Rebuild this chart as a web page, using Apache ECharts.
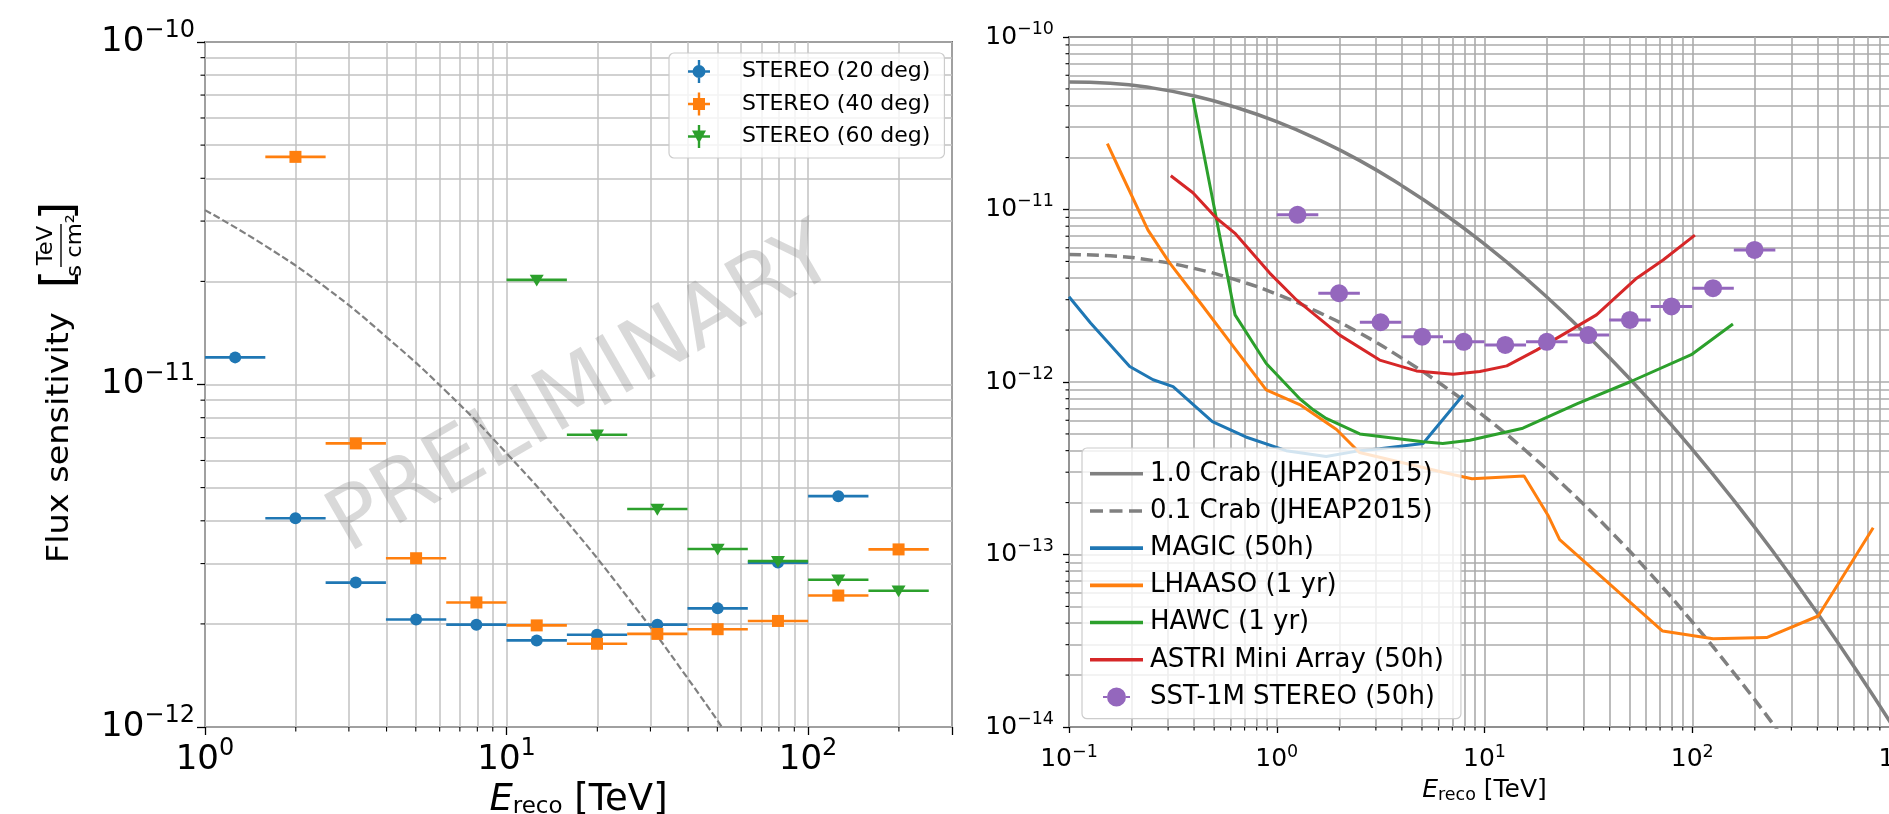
<!DOCTYPE html>
<html>
<head>
<meta charset="utf-8">
<title>Flux sensitivity</title>
<script src="https://cdn.jsdelivr.net/npm/echarts@6/dist/echarts.min.js"></script>
<style>
  html, body { margin: 0; padding: 0; background: #fff; }
  #chart { width: 1889px; height: 814px; }
</style>
</head>
<body>
<div id="chart"></div>
<script>
// energy bins of the STEREO points (0.2 decade wide), TeV
const binCenter = [1.259, 1.995, 3.162, 5.012, 7.943, 12.59, 19.95, 31.62, 50.12, 79.43, 125.9, 199.5];
const binLow = [1.0, 1.585, 2.512, 3.981, 6.310, 10.0, 15.85, 25.12, 39.81, 63.10, 100.0, 158.5];
const binHigh = [1.585, 2.512, 3.981, 6.310, 10.0, 15.85, 25.12, 39.81, 63.10, 100.0, 158.5, 251.2];

// left panel: SST-1M stereo sensitivity per zenith angle
const fluxStereo20 = [1.20e-11, 4.07e-12, 2.64e-12, 2.06e-12, 1.99e-12, 1.79e-12, 1.86e-12, 1.99e-12, 2.22e-12, 3.02e-12, 4.72e-12, null];
const fluxStereo40 = [null, 4.62e-11, 6.73e-12, 3.11e-12, 2.31e-12, 1.98e-12, 1.75e-12, 1.87e-12, 1.93e-12, 2.04e-12, 2.42e-12, 3.30e-12];
const fluxStereo60 = [null, null, null, null, null, 2.02e-11, 7.13e-12, 4.33e-12, 3.31e-12, 3.05e-12, 2.69e-12, 2.50e-12];

// right panel: SST-1M stereo 50h, same bins
const fluxSst1m = [9.31e-12, 3.27e-12, 2.22e-12, 1.83e-12, 1.71e-12, 1.64e-12, 1.71e-12, 1.87e-12, 2.29e-12, 2.74e-12, 3.50e-12, 5.83e-12];

// Crab reference curves
const crabEnergy = [0.1, 0.158, 0.251, 0.398, 0.631, 1, 1.585, 2.512, 3.981, 6.31, 10, 15.85, 25.12, 39.81, 63.1, 100, 158.5, 251.2, 398.1, 631, 1000];
const crabFlux = [5.48e-11, 5.39e-11, 5.07e-11, 4.56e-11, 3.92e-11, 3.23e-11, 2.54e-11, 1.92e-11, 1.38e-11, 9.54e-12, 6.30e-12, 3.98e-12, 2.40e-12, 1.39e-12, 7.69e-13, 4.07e-13, 2.06e-13, 9.97e-14, 4.62e-14, 2.05e-14, 8.69e-15];
const crabFluxTenth = [5.48e-12, 5.39e-12, 5.07e-12, 4.56e-12, 3.92e-12, 3.23e-12, 2.54e-12, 1.92e-12, 1.38e-12, 9.54e-13, 6.30e-13, 3.98e-13, 2.40e-13, 1.39e-13, 7.69e-14, 4.07e-14, 2.06e-14, 9.97e-15, 4.62e-15, 2.05e-15, 8.69e-16];

// other instruments
const magicEnergy = [0.1, 0.127, 0.196, 0.254, 0.317, 0.49, 0.71, 1.11, 1.73, 2.51, 3.13, 5.06, 7.89];
const magicFlux = [3.12e-12, 2.2e-12, 1.23e-12, 1.03e-12, 9.4e-13, 5.9e-13, 4.8e-13, 4.0e-13, 3.7e-13, 4.0e-13, 4.1e-13, 4.4e-13, 8.4e-13];
const lhaasoEnergy = [0.153, 0.175, 0.24, 0.305, 0.43, 0.62, 0.89, 1.29, 1.94, 2.5, 7.1, 8.7, 15.5, 20.2, 23, 72, 126, 228, 404, 743];
const lhaasoFlux = [2.41e-11, 1.70e-11, 7.6e-12, 4.9e-12, 2.86e-12, 1.6e-12, 9.0e-13, 7.4e-13, 5.3e-13, 3.9e-13, 2.9e-13, 2.75e-13, 2.85e-13, 1.69e-13, 1.22e-13, 3.6e-14, 3.25e-14, 3.3e-14, 4.4e-14, 1.43e-13];
const hawcEnergy = [0.395, 0.63, 0.89, 1.29, 1.5, 1.73, 2.51, 5.06, 6.3, 8.5, 15.3, 28, 50, 99, 157];
const hawcFlux = [4.43e-11, 2.45e-12, 1.28e-12, 8.0e-13, 6.9e-13, 6.15e-13, 5.0e-13, 4.5e-13, 4.4e-13, 4.6e-13, 5.4e-13, 7.5e-13, 1.0e-12, 1.44e-12, 2.17e-12];
const astriEnergy = [0.309, 0.395, 0.513, 0.628, 0.925, 1.245, 2.01, 3.13, 4.7, 7.06, 9.5, 12.8, 17.8, 34.6, 54, 72.4, 103];
const astriFlux = [1.57e-11, 1.25e-11, 8.9e-12, 7.3e-12, 4.28e-12, 2.99e-12, 1.87e-12, 1.34e-12, 1.16e-12, 1.11e-12, 1.15e-12, 1.24e-12, 1.53e-12, 2.45e-12, 4.0e-12, 5.1e-12, 7.1e-12];

const FONT = "DejaVu Sans";
const pairs = (xs, ys) => xs.map((x, i) => [x, ys[i]]);
const binned = (vals) => binCenter.map((e, i) => vals[i] == null ? null : [e, vals[i], binLow[i], binHigh[i]]).filter(Boolean);

// 10^n tick labels, other values (axis ends) left blank
const powerLabel = (v) => {
  const p = Math.log10(v);
  const r = Math.round(p);
  if (Math.abs(p - r) > 1e-6) return "";
  return "{b|10}{s|" + String(r).replace("-", "\u2212") + "}";
};

// 2..9 x 10^n positions for the minor grid / minor ticks
const minorValues = (lo, hi) => {
  const out = [];
  for (let d = Math.floor(Math.log10(lo) + 1e-9); d < Math.ceil(Math.log10(hi) - 1e-9); d++) {
    for (let m = 2; m <= 9; m++) {
      const v = m * Math.pow(10, d);
      if (v > lo * 1.0001 && v < hi * 0.9999) out.push(v);
    }
  }
  return out;
};

const minorGrid = (name, idx, xr, yr, color, width) => ({
  name, type: "line", xAxisIndex: idx, yAxisIndex: idx, data: [], silent: true,
  markLine: {
    z: 1, silent: true, symbol: ["none", "none"], label: { show: false },
    emphasis: { disabled: true }, animation: false,
    lineStyle: { color, width, type: "solid" },
    data: [
      ...minorValues(xr[0], xr[1]).map(v => [{ coord: [v, yr[0]] }, { coord: [v, yr[1]] }]),
      ...minorValues(yr[0], yr[1]).map(v => [{ coord: [xr[0], v] }, { coord: [xr[1], v] }])
    ]
  }
});

// short outward minor ticks on the bottom and left axes
const minorTicks = (name, idx, xr, yr, len) => ({
  name, type: "custom", xAxisIndex: idx, yAxisIndex: idx, z: 2, clip: false, silent: true,
  data: [
    ...minorValues(xr[0], xr[1]).map(v => [v, yr[0], 0]),
    ...minorValues(yr[0], yr[1]).map(v => [xr[0], v, 1])
  ],
  renderItem: (params, api) => {
    const p = api.coord([api.value(0), api.value(1)]);
    const vertical = api.value(2) === 0;
    return {
      type: "line",
      shape: vertical ? { x1: p[0], y1: p[1], x2: p[0], y2: p[1] + len } : { x1: p[0] - len, y1: p[1], x2: p[0], y2: p[1] },
      style: { stroke: "#000", lineWidth: 1.1 }
    };
  }
});

// horizontal error bar + marker, positioned through the axis scales
const errorbarItem = (shape, color, size, lw) => (params, api) => {
  const f = api.value(1);
  const c = api.coord([api.value(0), f]);
  const a = api.coord([api.value(2), f]);
  const b = api.coord([api.value(3), f]);
  const h = size / 2;
  let marker;
  if (shape === "circle") {
    marker = { type: "circle", shape: { cx: c[0], cy: c[1], r: h }, style: { fill: color } };
  } else if (shape === "square") {
    marker = { type: "rect", shape: { x: c[0] - h, y: c[1] - h, width: size, height: size }, style: { fill: color } };
  } else {
    marker = { type: "polygon", shape: { points: [[c[0] - h, c[1] - h * 0.75], [c[0] + h, c[1] - h * 0.75], [c[0], c[1] + h * 0.95]] }, style: { fill: color } };
  }
  return {
    type: "group",
    children: [
      { type: "line", shape: { x1: a[0], y1: a[1], x2: b[0], y2: b[1] }, style: { stroke: color, lineWidth: lw } },
      marker
    ]
  };
};

const errSeries = (name, shape, color, data, idx, size, lw) => ({
  name, type: "custom", xAxisIndex: idx, yAxisIndex: idx, z: 4, clip: true,
  itemStyle: { color }, renderItem: errorbarItem(shape, color, size, lw), data
});

const lineSeries = (name, color, data, width, dash, smooth) => ({
  name, type: "line", xAxisIndex: 1, yAxisIndex: 1, z: 3, data, smooth: !!smooth,
  symbol: "none", showSymbol: false, color,
  lineStyle: { color, width, type: dash || "solid" }
});

// legend icons (path bbox == item box so nothing gets distorted)
const plusBars = "M18.8,1 h2.4 v23 h-2.4 Z M9,11.3 h22 v2.4 h-22 Z";
const iconCircle = "path://M0,0 M40,25 " + plusBars + " M13.5,12.5 A6.5,6.5 0 1,1 26.5,12.5 A6.5,6.5 0 1,1 13.5,12.5 Z";
const iconSquare = "path://M0,0 M40,25 " + plusBars + " M14,6.5 h12 v12 h-12 Z";
const iconTriangle = "path://M0,0 M40,25 " + plusBars + " M13,6.5 L27,6.5 L20,19.5 Z";
const iconSolid = "path://M0,0 M53,20 M0,8.2 h53 v3.6 h-53 Z";
const iconDashed = "path://M0,0 M53,20 M0,8.2 h13 v3.6 h-13 Z M19.5,8.2 h13 v3.6 h-13 Z M39,8.2 h13 v3.6 h-13 Z";
const iconDot = "path://M0,0 M53,20 M17,10 A9.5,9.5 0 1,1 36,10 A9.5,9.5 0 1,1 17,10 Z M13,9 h4 v2 h-4 Z M36,9 h4 v2 h-4 Z";

const C = {
  blue: "#1f77b4", orange: "#ff7f0e", green: "#2ca02c", red: "#d62728", purple: "#9467bd", grey: "#808080"
};

const axisCommon = (size, sub, margin, tickLen, gridColor, gridWidth) => ({
  type: "log", logBase: 10,
  axisLine: { show: false },
  axisTick: { show: true, inside: false, length: tickLen, lineStyle: { color: "#000", width: 1.3 } },
  splitLine: { show: true, lineStyle: { color: gridColor, width: gridWidth } },
  axisLabel: {
    formatter: powerLabel, margin, color: "#000", fontFamily: FONT,
    rich: {
      b: { fontSize: size, lineHeight: size * 1.35, verticalAlign: "middle", fontFamily: FONT, color: "#000" },
      s: { fontSize: sub, lineHeight: sub, verticalAlign: "top", fontFamily: FONT, color: "#000" }
    }
  }
});

// E_reco [TeV]; the subscript box is sized so it sits `drop` px below the main text
const axisName = (size, sub, drop) => {
  const lh = size * 1.35;
  return {
    rich: {
      i: { fontSize: size, fontStyle: "italic", lineHeight: lh, verticalAlign: "middle", fontFamily: FONT, color: "#000" },
      sub: { fontSize: sub, height: 2 * (lh / 2 - drop), lineHeight: 2 * (lh / 2 - drop), verticalAlign: "bottom", fontFamily: FONT, color: "#000" },
      n: { fontSize: size, lineHeight: lh, verticalAlign: "middle", fontFamily: FONT, color: "#000" }
    }
  };
};

const LEFT_GRID = "#c2c2c2";
const RIGHT_GRID = "#ababab";

const chart = echarts.init(document.getElementById("chart"));

chart.setOption({
  animation: false,
  backgroundColor: "#fff",
  textStyle: { fontFamily: FONT },
  grid: [
    { left: 205, top: 42, width: 747, height: 685, show: true, backgroundColor: "#fff", borderColor: "#000", borderWidth: 1.5, containLabel: false, outerBoundsMode: "none" },
    { left: 1069, top: 37, width: 831, height: 690, show: true, backgroundColor: "#fff", borderColor: "#000", borderWidth: 1.5, containLabel: false, outerBoundsMode: "none" }
  ],
  xAxis: [
    Object.assign(axisCommon(34, 24, 10, 8, LEFT_GRID, 1.5), {
      gridIndex: 0, min: 1, max: 300,
      name: "{i|E}{sub|reco}{n| [TeV]}", nameLocation: "middle", nameGap: 41, nameTextStyle: axisName(37, 23, 7)
    }),
    Object.assign(axisCommon(25, 17.5, 16, 6, RIGHT_GRID, 1.6), {
      gridIndex: 1, min: 0.1, max: 1000,
      name: "{i|E}{sub|reco}{n| [TeV]}", nameLocation: "middle", nameGap: 47, nameTextStyle: axisName(25, 17.5, 5)
    })
  ],
  yAxis: [
    Object.assign(axisCommon(34, 24, 10, 8, LEFT_GRID, 1.5), { gridIndex: 0, min: 1e-12, max: 1e-10 }),
    Object.assign(axisCommon(25, 17.5, 15, 6, RIGHT_GRID, 1.6), { gridIndex: 1, min: 1e-14, max: 1e-10 })
  ],
  legend: [
    {
      orient: "vertical", left: 669, top: 53, padding: [6, 14, 9, 10], itemGap: 7.5,
      itemWidth: 40, itemHeight: 25, selectedMode: false,
      backgroundColor: "rgba(255,255,255,0.8)", borderColor: "#cccccc", borderWidth: 1.2, borderRadius: 5,
      textStyle: { fontSize: 22, lineHeight: 25, color: "#000", fontFamily: FONT, padding: [0, 0, 0, 18] },
      data: [
        { name: "STEREO (20 deg)", icon: iconCircle },
        { name: "STEREO (40 deg)", icon: iconSquare },
        { name: "STEREO (60 deg)", icon: iconTriangle }
      ]
    },
    {
      orient: "vertical", left: 1082, top: 448, padding: [11, 17, 7, 8], itemGap: 7.7,
      itemWidth: 53, itemHeight: 20, selectedMode: false,
      backgroundColor: "rgba(255,255,255,0.8)", borderColor: "#cccccc", borderWidth: 1.2, borderRadius: 5,
      textStyle: { fontSize: 26, lineHeight: 29.5, color: "#000", fontFamily: FONT, padding: [0, 0, 0, 2] },
      data: [
        { name: "1.0 Crab (JHEAP2015)", icon: iconSolid },
        { name: "0.1 Crab (JHEAP2015)", icon: iconDashed },
        { name: "MAGIC (50h)", icon: iconSolid },
        { name: "LHAASO (1 yr)", icon: iconSolid },
        { name: "HAWC (1 yr)", icon: iconSolid },
        { name: "ASTRI Mini Array (50h)", icon: iconSolid },
        { name: "SST-1M STEREO (50h)", icon: iconDot }
      ]
    }
  ],
  graphic: [
    {
      type: "text", x: 583, y: 392, rotation: Math.PI / 6, z: 3, silent: true,
      style: { text: "PRELIMINARY", font: "86px 'DejaVu Sans'", fill: "rgba(128,128,128,0.3)", textAlign: "center", textVerticalAlign: "middle" }
    },
    {
      type: "group", x: 60, y: 563, rotation: Math.PI / 2, scaleX: 1.08, z: 10, silent: true,
      children: [
        { type: "text", x: 0, y: 0, style: { text: "Flux sensitivity", font: "31px 'DejaVu Sans'", fill: "#000", textAlign: "left", textVerticalAlign: "middle" } },
        { type: "text", x: 263, y: 1, style: { text: "[", font: "44px 'DejaVu Sans'", fill: "#000", textAlign: "center", textVerticalAlign: "middle" } },
        { type: "text", x: 294, y: -13, style: { text: "TeV", font: "21px 'DejaVu Sans'", fill: "#000", textAlign: "center", textVerticalAlign: "middle" } },
        { type: "line", shape: { x1: 274, y1: 1, x2: 314, y2: 1 }, style: { stroke: "#000", lineWidth: 1.4 } },
        { type: "text", x: 294, y: 16, style: { text: "s cm\u00b2", font: "21px 'DejaVu Sans'", fill: "#000", textAlign: "center", textVerticalAlign: "middle" } },
        { type: "text", x: 326, y: 1, style: { text: "]", font: "44px 'DejaVu Sans'", fill: "#000", textAlign: "center", textVerticalAlign: "middle" } }
      ]
    }
  ],
  series: [
    minorGrid("minor grid left", 0, [1, 300], [1e-12, 1e-10], LEFT_GRID, 1.5),
    minorGrid("minor grid right", 1, [0.1, 1000], [1e-14, 1e-10], RIGHT_GRID, 1.6),
    minorTicks("minor ticks left", 0, [1, 300], [1e-12, 1e-10], 4.5),
    minorTicks("minor ticks right", 1, [0.1, 1000], [1e-14, 1e-10], 3.5),

    // left panel
    {
      name: "Crab (left)", type: "line", xAxisIndex: 0, yAxisIndex: 0, z: 3, smooth: true, symbol: "none",
      data: pairs(crabEnergy, crabFlux).filter(p => p[0] >= 1 && p[0] <= 100),
      lineStyle: { color: C.grey, width: 2.2, type: [7, 3] }
    },
    errSeries("STEREO (20 deg)", "circle", C.blue, binned(fluxStereo20), 0, 12, 2.6),
    errSeries("STEREO (40 deg)", "square", C.orange, binned(fluxStereo40), 0, 12, 2.6),
    errSeries("STEREO (60 deg)", "triangle", C.green, binned(fluxStereo60), 0, 14, 2.6),

    // right panel
    lineSeries("1.0 Crab (JHEAP2015)", C.grey, pairs(crabEnergy, crabFlux), 3.5, null, true),
    lineSeries("0.1 Crab (JHEAP2015)", C.grey, pairs(crabEnergy, crabFluxTenth), 3.5, [12, 6], true),
    lineSeries("MAGIC (50h)", C.blue, pairs(magicEnergy, magicFlux), 3),
    lineSeries("LHAASO (1 yr)", C.orange, pairs(lhaasoEnergy, lhaasoFlux), 3),
    lineSeries("HAWC (1 yr)", C.green, pairs(hawcEnergy, hawcFlux), 3),
    lineSeries("ASTRI Mini Array (50h)", C.red, pairs(astriEnergy, astriFlux), 3),
    errSeries("SST-1M STEREO (50h)", "circle", C.purple, binned(fluxSst1m), 1, 18, 3)
  ]
});

window.addEventListener("resize", () => chart.resize());
</script>
</body>
</html>
